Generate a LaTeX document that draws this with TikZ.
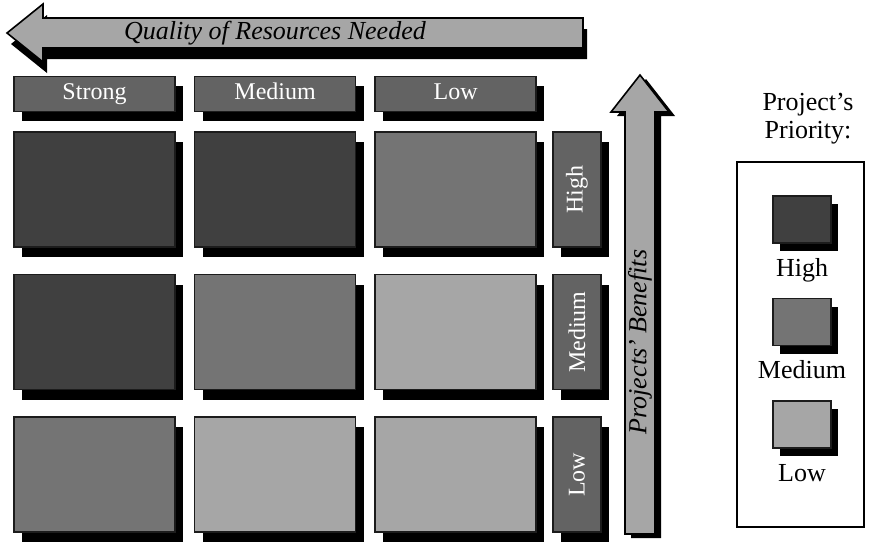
\documentclass[tikz,border=0pt]{standalone}
\usepackage{fontspec}
\setmainfont{Liberation Serif}
\usepackage{graphicx}
\usepackage{tikz}
\usetikzlibrary{positioning,shadows}
\definecolor{prioHigh}{HTML}{404040}
\definecolor{prioMed}{HTML}{747474}
\definecolor{prioLow}{HTML}{A6A6A6}
\definecolor{tagGray}{HTML}{636363}
\definecolor{edgeGray}{HTML}{1C1C1C}
\tikzset{
    shade/.style={drop shadow={shadow xshift=8pt, shadow yshift=-10pt, fill=black, opacity=1}},
    cell/.style={rectangle, draw=edgeGray, line width=1.6pt, minimum width=161pt, minimum height=115pt, inner sep=0pt, shade},
    tag/.style={rectangle, draw=edgeGray, line width=1.6pt, fill=tagGray, text=white, inner sep=0pt, font=\fontsize{24}{26}\selectfont, text height=16pt, text depth=5pt, shade},
    coltag/.style={tag, minimum width=161pt, minimum height=35pt},
    rowtag/.style={tag, minimum width=48pt, minimum height=115pt, text height=, text depth=},
    bigarrow/.style={draw=black, line width=1.6pt, fill=prioLow, line join=miter},
    arrowtext/.style={font=\fontsize{26}{28}\selectfont\itshape, inner sep=0pt},
    swatch/.style={rectangle, draw=edgeGray, line width=1.6pt, minimum width=58pt, minimum height=47pt, inner sep=0pt,
        drop shadow={shadow xshift=7pt, shadow yshift=-8pt, fill=black, opacity=1}},
    lbl/.style={font=\fontsize{26}{28}\selectfont, inner sep=0pt, text height=17pt, text depth=6pt},
}

\begin{document}
\begin{tikzpicture}[x=1pt, y=-1pt]
    \useasboundingbox (0,0) rectangle (869,542);

    % quality arrow (points left)
    \draw[bigarrow, drop shadow={shadow xshift=4pt, shadow yshift=-11pt, fill=black, opacity=1}]
        (583,18) -- (43,18) -- (43,4) -- (7,33) -- (43,62) -- (43,48) -- (583,48) -- cycle;
    \node[arrowtext] (qual) at (275,33) {Quality of Resources Needed};

    % benefits arrow (points up)
    \draw[bigarrow, drop shadow={shadow xshift=6pt, shadow yshift=-4pt, fill=black, opacity=1}]
        (625,534) -- (625,112) -- (611,112) -- (640,75) -- (669,112) -- (655,112) -- (655,534) -- cycle;
    \node[arrowtext, rotate=90] (bene) at (640,342) {Projects' Benefits};

    % matrix
    \node[cell, fill=prioHigh] (c11) at (94.5,189.5) {};
    \node[cell, fill=prioHigh, right=18pt of c11] (c12) {};
    \node[cell, fill=prioMed, right=18pt of c12] (c13) {};
    \node[cell, fill=prioHigh, below=26pt of c11] (c21) {};
    \node[cell, fill=prioMed, right=18pt of c21] (c22) {};
    \node[cell, fill=prioLow, right=18pt of c22] (c23) {};
    \node[cell, fill=prioMed, below=26pt of c21] (c31) {};
    \node[cell, fill=prioLow, right=18pt of c31] (c32) {};
    \node[cell, fill=prioLow, right=18pt of c32] (c33) {};

    % column heads
    \node[coltag, above=19pt of c11] (hStrong) {Strong};
    \node[coltag, above=19pt of c12] (hMedium) {Medium};
    \node[coltag, above=19pt of c13] (hLow) {Low};

    % row heads
    \node[rowtag, right=15pt of c13] (rHigh) {\rotatebox{90}{High}};
    \node[rowtag, right=15pt of c23] (rMedium) {\rotatebox{90}{Medium}};
    \node[rowtag, right=15pt of c33] (rLow) {\rotatebox{90}{Low}};

    % legend
    \node[lbl, align=center, text height=, text depth=] (title) at (808,119) {Project's\\Priority:};
    \node[draw=black, line width=2pt, minimum width=127pt, minimum height=365pt, inner sep=0pt] (legend) at (800.5,344.5) {};
    \node[swatch, fill=prioHigh] (swHigh) at (802,219.5) {};
    \node[lbl, below=15pt of swHigh] (tHigh) {High};
    \node[swatch, fill=prioMed, below=54pt of swHigh] (swMedium) {};
    \node[lbl, below=15pt of swMedium] (tMedium) {Medium};
    \node[swatch, fill=prioLow, below=54pt of swMedium] (swLow) {};
    \node[lbl, below=15pt of swLow] (tLow) {Low};
\end{tikzpicture}
\end{document}
